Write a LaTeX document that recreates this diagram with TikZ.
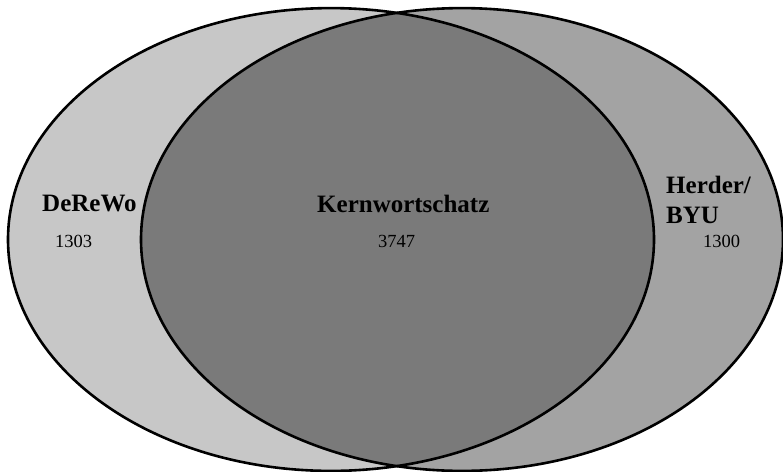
\documentclass[tikz,border=0pt]{standalone}
\usepackage{fontspec}
\setmainfont{Liberation Serif}
\usetikzlibrary{positioning}
\definecolor{derewofill}{gray}{0.78}
\definecolor{herderfill}{gray}{0.64}
\definecolor{kernfill}{gray}{0.48}

\begin{document}
\begin{tikzpicture}[
    x=1pt, y=-1pt,
    setline/.style={draw=black, line width=2.6pt},
    setlabel/.style={inner sep=0pt, anchor=base west, font=\fontsize{25}{30}\selectfont\bfseries, align=left},
    setcount/.style={inner sep=0pt, anchor=base west, font=\fontsize{18.5}{22}\selectfont}
  ]
    \useasboundingbox (0,0) rectangle (783,471);
    \coordinate (cderewo) at (331,239.5);
    \coordinate (cherder) at (462,239.5);
    \fill[derewofill] (cderewo) ellipse [x radius=323, y radius=231.4];
    \fill[herderfill] (cherder) ellipse [x radius=321, y radius=231.4];
    \begin{scope}
      \clip (cderewo) ellipse [x radius=323, y radius=231.4];
      \fill[kernfill] (cherder) ellipse [x radius=321, y radius=231.4];
    \end{scope}
    \draw[setline] (cderewo) ellipse [x radius=323, y radius=231.4];
    \draw[setline] (cherder) ellipse [x radius=321, y radius=231.4];
    % labels
    \node[setlabel] (derewo) at (42,211) {DeReWo};
    \node[setcount] (nderewo) at (55,247) {1303};
    \node[setlabel] (kern) at (317,212) {Kernwortschatz};
    \node[setcount] (nkern) at (378,247) {3747};
    \node[setlabel] (herder) at (666,223) {Herder/\\BYU};
    \node[setcount] (nherder) at (703,247) {1300};
  \end{tikzpicture}
\end{document}
